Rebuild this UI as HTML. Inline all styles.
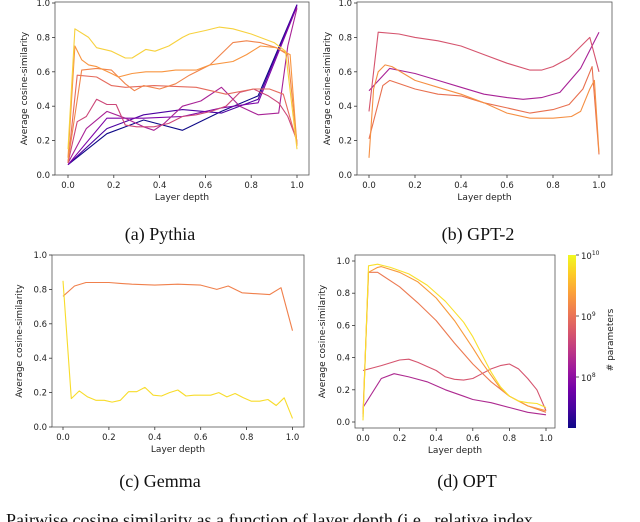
<!DOCTYPE html>
<html><head><meta charset="utf-8">
<style>
html,body{margin:0;padding:0;background:#fff;width:640px;height:522px;overflow:hidden;position:relative}
svg{position:absolute;left:0;top:0}
.cap{position:absolute;font-family:"Liberation Serif",serif;font-size:18px;color:#111;white-space:nowrap;transform:translateX(-50%)}
</style></head><body>
<svg id="chart" width="640" height="522" viewBox="0 0 640 522"></svg>
<div class="cap" style="left:160px;top:224px">(a) Pythia</div>
<div class="cap" style="left:478px;top:224px">(b) GPT-2</div>
<div class="cap" style="left:160px;top:471px">(c) Gemma</div>
<div class="cap" style="left:467px;top:471px">(d) OPT</div>
<div style="position:absolute;left:6px;top:510px;width:630px;overflow:hidden;font-family:'Liberation Serif',serif;font-size:18px;color:#111;white-space:nowrap">Pairwise cosine similarity as a function of layer depth (i.e., relative index</div>
<script>
const xTicks=[0,0.2,0.4,0.6,0.8,1.0];
const yTicks=[0,0.2,0.4,0.6,0.8,1.0];
// Pythia
const pyYellowX=[0,0.03,0.09,0.125,0.19,0.25,0.28,0.34,0.38,0.44,0.5,0.53,0.6,0.66,0.72,0.8,0.9,0.95,1.0];
const pyYellowY=[0.15,0.85,0.80,0.74,0.72,0.68,0.68,0.73,0.72,0.75,0.80,0.82,0.84,0.86,0.85,0.82,0.77,0.72,0.15];
const pyOrangeAX=[0,0.03,0.06,0.09,0.125,0.19,0.22,0.28,0.34,0.41,0.47,0.56,0.62,0.72,0.78,0.84,0.91,0.97,1.0];
const pyOrangeAY=[0.1,0.75,0.67,0.64,0.63,0.59,0.57,0.59,0.60,0.60,0.61,0.61,0.64,0.66,0.70,0.75,0.74,0.7,0.17];
const pyOrangeBX=[0,0.06,0.125,0.19,0.25,0.29,0.33,0.4,0.47,0.53,0.62,0.72,0.78,0.84,0.91,0.96,1.0];
const pyOrangeBY=[0.08,0.61,0.62,0.61,0.53,0.49,0.52,0.50,0.53,0.58,0.64,0.77,0.78,0.77,0.74,0.7,0.18];
const pyRedX=[0,0.04,0.125,0.19,0.25,0.375,0.56,0.69,0.81,0.88,0.94,1.0];
const pyRedY=[0.07,0.58,0.57,0.52,0.51,0.52,0.51,0.47,0.5,0.5,0.47,0.19];
const pyPinkX=[0,0.04,0.08,0.125,0.17,0.21,0.25,0.3,0.375,0.44,0.5,0.56,0.625,0.69,0.75,0.81,0.875,0.92,0.96,1.0];
const pyPinkY=[0.07,0.31,0.34,0.44,0.41,0.41,0.29,0.28,0.28,0.3,0.34,0.35,0.37,0.40,0.48,0.50,0.46,0.42,0.34,0.2];
const pyMagentaX=[0,0.08,0.17,0.25,0.33,0.375,0.42,0.5,0.58,0.67,0.75,0.83,0.92,0.96,1.0];
const pyMagentaY=[0.07,0.27,0.37,0.33,0.28,0.26,0.30,0.40,0.43,0.51,0.40,0.35,0.36,0.75,0.97];
const pySmallX=[0,0.17,0.33,0.5,0.67,0.83,1.0];
const pyPurpleY=[0.06,0.33,0.33,0.34,0.39,0.42,0.98];
const pyIndigoY=[0.06,0.27,0.35,0.38,0.36,0.44,0.99];
const pyBlueY=[0.06,0.24,0.32,0.26,0.37,0.46,0.99];
// GPT-2
const gpPinkX=[0,0.04,0.13,0.2,0.3,0.4,0.5,0.6,0.7,0.75,0.8,0.87,0.96,1.0];
const gpPinkY=[0.37,0.83,0.82,0.80,0.78,0.75,0.70,0.65,0.61,0.61,0.63,0.68,0.80,0.60];
const gpPurpleX=[0,0.09,0.2,0.3,0.4,0.5,0.6,0.67,0.75,0.83,0.92,1.0];
const gpPurpleY=[0.49,0.62,0.59,0.55,0.51,0.47,0.45,0.44,0.45,0.48,0.62,0.83];
const gpRedX=[0,0.06,0.09,0.2,0.3,0.4,0.5,0.6,0.7,0.8,0.87,0.93,0.97,1.0];
const gpRedY=[0.21,0.52,0.55,0.50,0.47,0.46,0.42,0.39,0.36,0.38,0.41,0.5,0.63,0.12];
const gpOrangeX=[0,0.02,0.04,0.07,0.1,0.2,0.3,0.4,0.5,0.6,0.7,0.8,0.88,0.92,0.96,0.98,1.0];
const gpOrangeY=[0.1,0.5,0.6,0.64,0.63,0.55,0.51,0.47,0.42,0.36,0.33,0.33,0.34,0.37,0.5,0.55,0.13];
// Gemma
const gmOrangeX=[0,0.05,0.1,0.2,0.25,0.3,0.4,0.5,0.6,0.67,0.72,0.78,0.9,0.95,1.0];
const gmOrangeY=[0.76,0.82,0.84,0.84,0.835,0.83,0.825,0.83,0.825,0.80,0.82,0.78,0.77,0.81,0.56];
const gmYellowX=[0,0.036,0.071,0.107,0.143,0.18,0.214,0.25,0.286,0.321,0.357,0.393,0.429,0.464,0.5,0.536,0.571,0.607,0.643,0.679,0.714,0.75,0.786,0.821,0.857,0.893,0.929,0.964,1.0];
const gmYellowY=[0.85,0.165,0.21,0.175,0.155,0.155,0.145,0.155,0.205,0.205,0.23,0.185,0.18,0.2,0.215,0.18,0.185,0.185,0.185,0.2,0.175,0.195,0.17,0.15,0.15,0.16,0.125,0.17,0.05];
// OPT
const opYellowX=[0,0.03,0.08,0.15,0.25,0.35,0.45,0.55,0.6,0.65,0.7,0.75,0.8,0.85,0.9,0.95,1.0];
const opYellowY=[0.01,0.97,0.98,0.96,0.92,0.85,0.75,0.62,0.53,0.42,0.31,0.22,0.16,0.13,0.12,0.115,0.09];
const opOrangeX=[0,0.03,0.08,0.1,0.2,0.3,0.4,0.5,0.6,0.65,0.7,0.75,0.8,0.9,1.0];
const opOrangeY=[0.03,0.93,0.96,0.965,0.93,0.87,0.77,0.63,0.46,0.37,0.29,0.21,0.16,0.1,0.07];
const opRedX=[0,0.03,0.08,0.2,0.3,0.4,0.5,0.6,0.7,0.8,0.9,1.0];
const opRedY=[0.05,0.93,0.93,0.84,0.74,0.63,0.49,0.36,0.25,0.16,0.1,0.06];
const opPinkX=[0,0.1,0.2,0.25,0.3,0.35,0.4,0.45,0.5,0.55,0.6,0.65,0.7,0.75,0.8,0.85,0.9,0.95,1.0];
const opPinkY=[0.32,0.35,0.385,0.39,0.37,0.345,0.32,0.28,0.265,0.26,0.27,0.3,0.33,0.35,0.36,0.33,0.27,0.2,0.07];
const opPurpleX=[0,0.1,0.17,0.25,0.35,0.45,0.55,0.6,0.7,0.8,0.9,1.0];
const opPurpleY=[0.09,0.27,0.3,0.28,0.25,0.2,0.16,0.14,0.12,0.09,0.06,0.045];

const NS='http://www.w3.org/2000/svg';
const svg=document.getElementById('chart');
function mk(tag,attrs,parent){const e=document.createElementNS(NS,tag);for(const k in attrs)e.setAttribute(k,attrs[k]);(parent||svg).appendChild(e);return e;}

const panels=[
 {id:'pythia',fl:55,fr:309,ft:2,fb:175,x0:68,x1:297,y0:175,y1:3,ylx:27,
  series:[[pyBlueY,pySmallX,'#0d0887'],[pyIndigoY,pySmallX,'#4c02a1'],[pyPurpleY,pySmallX,'#7e03a8'],[pyMagentaY,pyMagentaX,'#a82296'],
   [pyPinkY,pyPinkX,'#cc4778'],[pyRedY,pyRedX,'#e56b5d'],[pyOrangeBY,pyOrangeBX,'#f1844b'],[pyOrangeAY,pyOrangeAX,'#f89540'],[pyYellowY,pyYellowX,'#f7d13d']]},
 {id:'gpt2',fl:357,fr:612,ft:2,fb:175,x0:369,x1:599,y0:175,y1:3,ylx:330,
  series:[[gpPurpleY,gpPurpleX,'#a82296'],[gpPinkY,gpPinkX,'#d5546e'],[gpRedY,gpRedX,'#e8704f'],[gpOrangeY,gpOrangeX,'#f58f43']]},
 {id:'gemma',fl:52,fr:304,ft:255,fb:427,x0:63,x1:292.5,y0:427,y1:255,ylx:22,
  series:[[gmOrangeY,gmOrangeX,'#f0804c'],[gmYellowY,gmYellowX,'#f8dc2a']]},
 {id:'opt',fl:355,fr:555,ft:255,fb:428,x0:363,x1:546,y0:422,y1:261,ylx:325,
  series:[[opPurpleY,opPurpleX,'#ad2a90'],[opPinkY,opPinkX,'#d5546e'],[opRedY,opRedX,'#ec7a52'],[opOrangeY,opOrangeX,'#f89a3c'],[opYellowY,opYellowX,'#f9e02c']]}
];

panels.forEach(p=>{
  const g=mk('g',{});
  
  
  const sx=v=>p.x0+v*(p.x1-p.x0);
  const sy=v=>p.y0+v*(p.y1-p.y0);
  const fr=mk('rect',{x:p.fl,y:p.ft,width:p.fr-p.fl,height:p.fb-p.ft,fill:'none',stroke:'#555','stroke-width':0.8},g);
  
  
  xTicks.forEach(t=>{
    const x=sx(t);
    mk('line',{x1:x,x2:x,y1:p.fb,y2:p.fb+3,stroke:'#333','stroke-width':0.8},g);
    const tx=mk('text',{x:x,y:p.fb+13,'text-anchor':'middle','font-family':'DejaVu Sans, sans-serif','font-size':8.5,fill:'#222'},g);
    tx.textContent=t.toFixed(1);
    
    
  });
  yTicks.forEach(t=>{
    const y=sy(t);
    mk('line',{x1:p.fl-3,x2:p.fl,y1:y,y2:y,stroke:'#333','stroke-width':0.8},g);
    const tx=mk('text',{x:p.fl-5,y:y+3,'text-anchor':'end','font-family':'DejaVu Sans, sans-serif','font-size':8.5,fill:'#222'},g);
    tx.textContent=t.toFixed(1);
    
    
  });
  const xl=mk('text',{x:(p.fl+p.fr)/2,y:p.fb+25,'text-anchor':'middle','font-family':'DejaVu Sans, sans-serif','font-size':9,fill:'#222'},g);
  xl.textContent='Layer depth';
  
  
  const cy=(p.ft+p.fb)/2;
  const yl=mk('text',{x:p.ylx,y:cy,'text-anchor':'middle','font-family':'DejaVu Sans, sans-serif','font-size':9,fill:'#222',transform:'rotate(-90 '+p.ylx+' '+cy+')'},g);
  yl.textContent='Average cosine-similarity';
  
  
  p.series.forEach((s,i)=>{
    const ys=s[0],xs=s[1];
    const d=ys.map((v,k)=>(k?'L':'M')+sx(xs[k]).toFixed(1)+','+sy(v).toFixed(1)).join('');
    const path=mk('path',{d:d,fill:'none',stroke:s[2],'stroke-width':1.1,'stroke-linejoin':'round'},g);
    
    
  });
});

// colorbar
const defs=mk('defs',{});
const grad=mk('linearGradient',{id:'plasma',x1:0,y1:1,x2:0,y2:0},defs);
['#0d0887','#46039f','#7201a8','#9c179e','#bd3786','#d8576b','#ed7953','#fb9f3a','#fdca26','#f0f921'].forEach((c,i,a)=>mk('stop',{offset:i/(a.length-1),'stop-color':c},grad));
const cb=mk('rect',{x:568,y:255,width:8,height:173,fill:'url(#plasma)'});


const cbTicks=[10,9,8];
const cbPos=v=>255+(10-v)*61;
cbTicks.forEach(v=>{
  const y=cbPos(v);
  mk('line',{x1:576,x2:579,y1:y,y2:y,stroke:'#333','stroke-width':0.8});
  const t=mk('text',{x:581,y:y+4,'font-family':'DejaVu Sans, sans-serif','font-size':8.5,fill:'#222'});
  t.textContent='10';
  const sp=mk('tspan',{dy:-4,'font-size':6},t);
  sp.textContent=String(v);
  
  
});
const cl=mk('text',{x:613,y:340,'text-anchor':'middle','font-family':'DejaVu Sans, sans-serif','font-size':9,fill:'#222',transform:'rotate(-90 613 340)'});
cl.textContent='# parameters';


</script>
</body></html>
